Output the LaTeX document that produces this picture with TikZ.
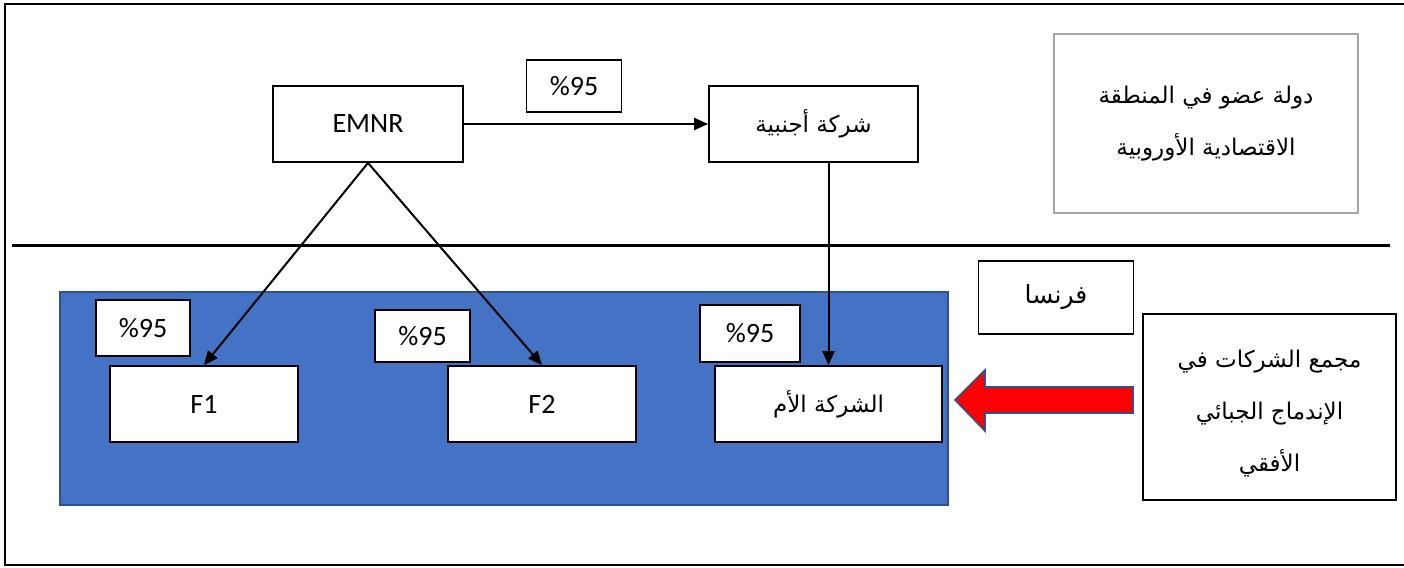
\documentclass[tikz,border=0pt]{standalone}
\usepackage{fontspec}
\setmainfont{Carlito}
\newfontfamily\arabicfont[Script=Arabic]{DejaVu Sans}
\TeXXeTstate=1
\usetikzlibrary{arrows.meta}
\definecolor{panelblue}{HTML}{4472C4}
\definecolor{paneledge}{HTML}{2F528F}
\definecolor{framegray}{HTML}{A6A6A6}
\tikzset{
  box/.style={draw=black, line width=1.8pt, fill=white, inner sep=2pt, align=center,
              font=\fontsize{28}{30}\selectfont},
  pct/.style={box, minimum width=95, minimum height=52},
  unit/.style={box, minimum width=188, minimum height=76},
  artext/.style={font=\fontsize{23}{52}\selectfont},
  link/.style={line width=2pt, -{Triangle[length=14pt,width=12pt]}}
}
\newcommand{\ar}[1]{{\arabicfont\beginR #1\endR}}
\begin{document}
\begin{tikzpicture}[x=1pt,y=-1pt]
  \useasboundingbox (0,0) rectangle (1404,567);
  \begin{scope}
    \clip (0,0) rectangle (1404,567);
    % outer frame, open on the right
    \draw[line width=2.4pt] (5,4) rectangle (1420,565);
  \end{scope}

  % separating line between the two zones
  \draw[line width=3pt] (12,245) -- (1390,245);

  % blue panel (France)
  \fill[panelblue, draw=paneledge, line width=1.2pt] (60,292) rectangle (948,505);

  % EEA member state
  \node[box, draw=framegray, line width=2.4pt, minimum width=304, minimum height=179,
        artext] (eea) at (1206,123.5)
        {\ar{دولة عضو في المنطقة}\\\ar{الاقتصادية الأوروبية}};

  % upper zone
  \node[unit, minimum width=190] (emnr) at (368,124) {EMNR};
  \node[unit, minimum width=209, artext] (foreign) at (813.5,124) {\ar{شركة أجنبية}};
  \node[pct] (ptop) at (574,86) {\%95};

  % France label and group box
  \node[box, minimum width=155, minimum height=73, font=\fontsize{25}{30}\selectfont]
        (fr) at (1056,297.5) {\ar{فرنسا}};
  \node[box, minimum width=253, minimum height=186, artext]
        (group) at (1269.5,407) {};
  \node[artext, align=center] (grouptext) at (1269.5,414)
        {\ar{مجمع الشركات في}\\\ar{الإندماج الجبائي}\\\ar{الأفقي}};

  % lower zone (inside the panel)
  \node[pct, minimum width=94, minimum height=56] (p1) at (143,328) {\%95};
  \node[pct] (p2) at (422.5,336) {\%95};
  \node[pct, minimum width=100, minimum height=57] (p3) at (750,333.5) {\%95};
  \node[unit] (f1) at (204,404) {F1};
  \node[unit] (f2) at (542,404) {F2};
  \node[unit, minimum width=227, artext] (mother) at (828.5,404) {\ar{الشركة الأم}};

  % ownership links
  \draw[link] (emnr.east) -- (foreign.west);
  \draw[link] (emnr.south) -- (f1.north);
  \draw[link] (emnr.south) -- (f2.north);
  \draw[link] (mother.north |- foreign.south) -- (mother.north);

  % red block arrow pointing at the parent company
  \coordinate (tip) at (955,400);
  \filldraw[fill=red, draw=paneledge, line width=1.6pt]
    (tip) -- (985,370) -- (985,387) -- (1133,387) -- (1133,413)
    -- (985,413) -- (985,431) -- cycle;
\end{tikzpicture}
\end{document}
